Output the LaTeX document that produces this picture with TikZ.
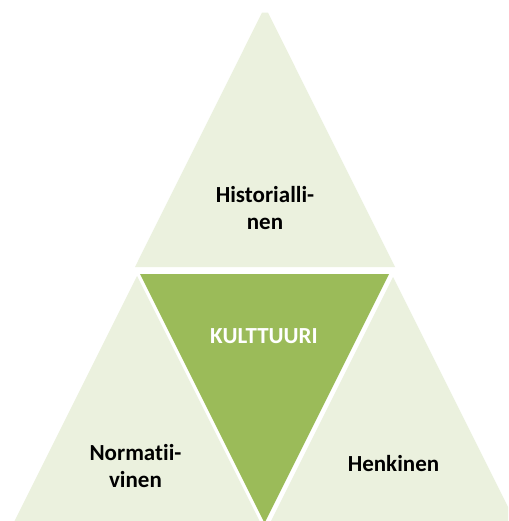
\documentclass[tikz,border=0pt]{standalone}
\usepackage{fontspec}
\setmainfont{Carlito}[Ligatures=NoCommon]
\definecolor{lightgreen}{RGB}{235,241,222}
\definecolor{midgreen}{RGB}{155,187,89}
\begin{document}
\begin{tikzpicture}[x=1pt,y=-1pt,
  side/.style={fill=lightgreen},
  core/.style={fill=midgreen},
  lbl/.style={font=\fontsize{23}{27}\selectfont\bfseries, align=center, inner sep=0pt, text=black},
  corelbl/.style={font=\fontsize{23}{27}\selectfont\bfseries, inner sep=0pt, text=white}]
\fill[white] (0,0) rectangle (508,521);
\useasboundingbox (0,0) rectangle (508,521);
\clip (0,0) rectangle (508,521);
% top triangle (clipped apex)
\fill[side] (262,12.7) -- (268,12.7) -- (395,267) -- (135,267) -- cycle;
% left triangle
\fill[side] (137,276) -- (267,536) -- (7,536) -- cycle;
% right triangle
\fill[side] (393,277) -- (523,537) -- (263,537) -- cycle;
% centre inverted triangle
\fill[core] (140,274) -- (389,274) -- (264.5,523) -- cycle;
% labels
\node[lbl] (hist) at (265,208) {Historialli-\\nen};
\node[corelbl, anchor=base] (kult) at (264,343) {KULTTUURI};
\node[lbl] (norm) at (135.5,466) {Normatii-\\vinen};
\node[lbl, anchor=base] (henk) at (393.5,471.7) {Henkinen};
\end{tikzpicture}
\end{document}
